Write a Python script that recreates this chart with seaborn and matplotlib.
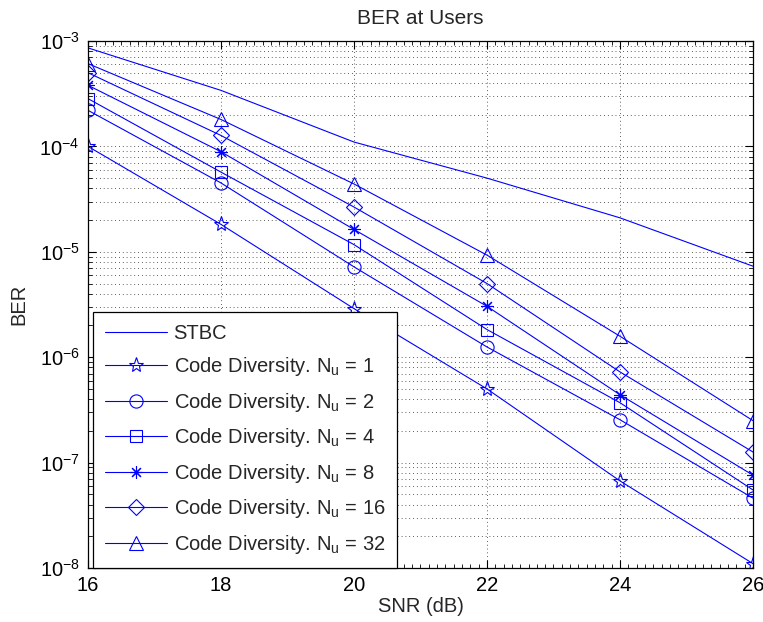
import numpy as np
import pandas as pd
import seaborn as sns
import matplotlib.pyplot as plt
from matplotlib.ticker import LogLocator, MultipleLocator, NullFormatter

snr = [16, 18, 20, 22, 24, 26]
ber_stbc = [8.6e-4, 3.4e-4, 1.1e-4, 5.0e-5, 2.1e-5, 7.3e-6]
ber_nu1 = [1.0e-4, 1.82e-5, 2.89e-6, 5.0e-7, 6.7e-8, 1.1e-8]
ber_nu2 = [2.2e-4, 4.5e-5, 7.2e-6, 1.25e-6, 2.55e-7, 4.6e-8]
ber_nu4 = [2.84e-4, 5.7e-5, 1.17e-5, 1.83e-6, 3.7e-7, 5.5e-8]
ber_nu8 = [3.8e-4, 8.9e-5, 1.63e-5, 3.04e-6, 4.4e-7, 7.6e-8]
ber_nu16 = [5.0e-4, 1.27e-4, 2.66e-5, 5.0e-6, 7.25e-7, 1.26e-7]
ber_nu32 = [6.1e-4, 1.8e-4, 4.4e-5, 9.3e-6, 1.58e-6, 2.5e-7]

labels = ["STBC"] + [r"Code Diversity. N$_\mathrm{u}$ = %d" % n for n in [1, 2, 4, 8, 16, 32]]
series = [ber_stbc, ber_nu1, ber_nu2, ber_nu4, ber_nu8, ber_nu16, ber_nu32]
markers = [None, "*", "o", "s", (8, 2, 0), "D", "^"]
msizes = [0, 11, 9.5, 8, 9, 8, 10]

sns.set_style("ticks")
plt.rcParams["font.family"] = ["Liberation Sans", "DejaVu Sans"]
plt.rcParams["mathtext.fontset"] = "custom"
plt.rcParams["mathtext.rm"] = "Liberation Sans"
plt.rcParams["mathtext.it"] = "Liberation Sans:italic"
plt.rcParams["mathtext.default"] = "regular"

fs = 14.5

fig = plt.figure(figsize=(7.63, 6.22), dpi=100)
ax = fig.add_axes([0.1153, 0.0868, 0.8716, 0.8473])

for lab, ys, mk, ms in zip(labels, series, markers, msizes):
    df = pd.DataFrame({"snr": snr, "ber": ys})
    kw = dict(color="blue", linewidth=0.8, label=lab)
    if mk is not None:
        kw.update(marker=mk, markersize=ms, markerfacecolor="none",
                  markeredgecolor="blue", markeredgewidth=0.8)
    sns.lineplot(data=df, x="snr", y="ber", ax=ax, **kw)

ax.set_yscale("log")
ax.set_xlim(16, 26)
ax.set_ylim(1e-8, 1e-3)
ax.set_xticks([16, 18, 20, 22, 24, 26])
ax.xaxis.set_minor_locator(MultipleLocator(2 / 16))
ax.yaxis.set_major_locator(LogLocator(base=10, numticks=10))
ax.yaxis.set_minor_locator(LogLocator(base=10, subs=np.arange(2, 10), numticks=20))
ax.yaxis.set_minor_formatter(NullFormatter())

ax.grid(True, which="major", axis="both", color="black", linestyle=(0, (1, 4)), linewidth=0.55)
ax.grid(True, which="minor", axis="y", color="black", linestyle=(0, (1, 4)), linewidth=0.55)

ax.tick_params(which="both", direction="in", top=True, right=True, labelsize=fs, colors="black")
ax.tick_params(which="major", length=6, width=0.8, pad=6)
ax.tick_params(which="minor", length=3, width=0.6)
for sp in ax.spines.values():
    sp.set_color("black")
    sp.set_linewidth(0.9)

ax.set_title("BER at Users", fontsize=15, pad=12)
ax.set_xlabel("SNR (dB)", fontsize=fs, labelpad=1)
ax.set_ylabel("BER", fontsize=fs, labelpad=8)

leg = ax.legend(loc="lower left", bbox_to_anchor=(0.0075, 0.0), borderaxespad=0,
                fontsize=fs, frameon=True, fancybox=False, framealpha=1,
                edgecolor="black", handlelength=3.1, labelspacing=0.62,
                handletextpad=0.3, borderpad=0.6)
leg.get_frame().set_linewidth(0.9)

fig.savefig("out.png", dpi=100)
